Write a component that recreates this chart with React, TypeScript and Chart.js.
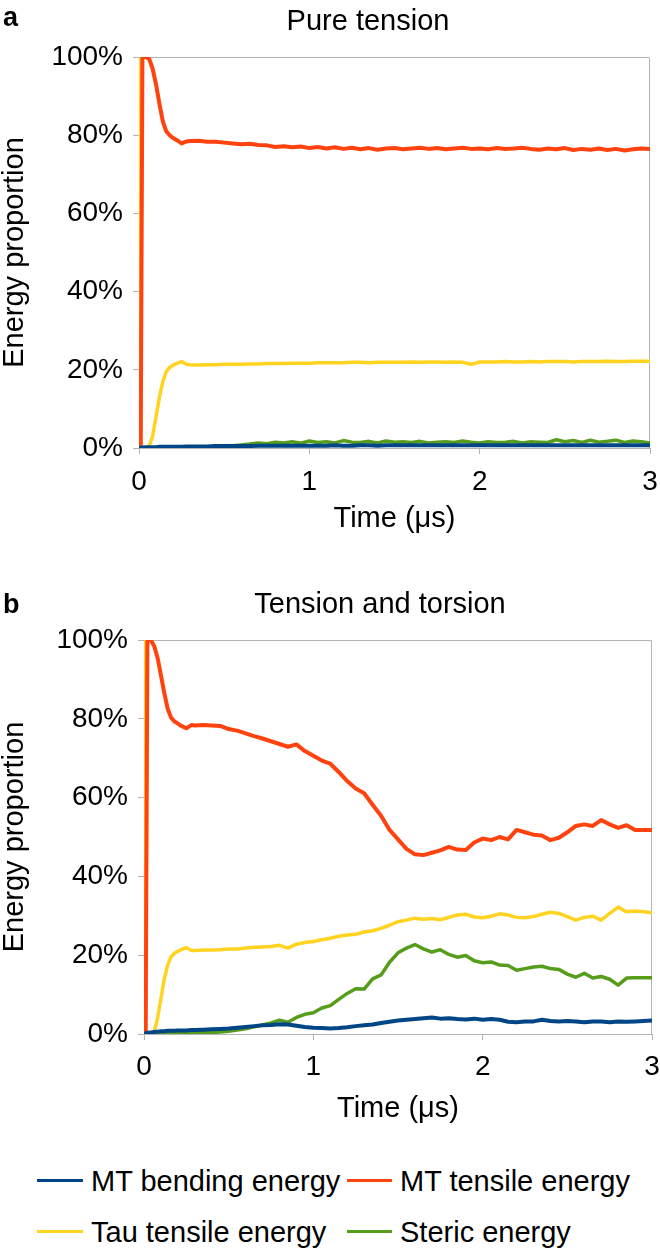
import React, { useEffect, useRef } from "react";
import { Chart, registerables } from "chart.js";

Chart.register(...registerables);

// ---------- data ----------
const TIME = [
  0, 0.01, 0.02, 0.04, 0.06, 0.08, 0.1, 0.12, 0.14, 0.16,
  0.18, 0.2, 0.22, 0.25, 0.28, 0.3, 0.35, 0.4, 0.45, 0.5,
  0.55, 0.6, 0.65, 0.7, 0.75, 0.8, 0.85, 0.9, 0.95, 1.0,
  1.05, 1.1, 1.15, 1.2, 1.25, 1.3, 1.35, 1.4, 1.45, 1.5,
  1.55, 1.6, 1.65, 1.7, 1.75, 1.8, 1.85, 1.9, 1.95, 2.0,
  2.05, 2.1, 2.15, 2.2, 2.25, 2.3, 2.35, 2.4, 2.45, 2.5,
  2.55, 2.6, 2.65, 2.7, 2.75, 2.8, 2.85, 2.9, 2.95, 3.0,
];

const SERIES_NAMES = ["MT bending energy", "MT tensile energy", "Tau tensile energy", "Steric energy"];
const SERIES_COLORS = ["#004586", "#ff420e", "#ffd320", "#579d1c"];
const SERIES_WIDTHS = [4, 4, 3.5, 3.5];

const Y_TICK_STEP = 20;
const X_TICK_STEP = 1;

// Panel a: pure tension
const A_BENDING = [
  0, 0.1, 0.1, 0.2, 0.2, 0.2, 0.2, 0.3, 0.3, 0.3,
  0.3, 0.3, 0.3, 0.3, 0.4, 0.4, 0.4, 0.4, 0.5, 0.5,
  0.5, 0.5, 0.5, 0.6, 0.6, 0.6, 0.6, 0.6, 0.6, 0.6,
  0.6, 0.6, 0.7, 0.6, 0.6, 0.7, 0.7, 0.6, 0.7, 0.7,
  0.7, 0.7, 0.7, 0.7, 0.7, 0.7, 0.7, 0.7, 0.7, 0.7,
  0.7, 0.7, 0.7, 0.7, 0.7, 0.7, 0.7, 0.7, 0.7, 0.7,
  0.7, 0.7, 0.7, 0.7, 0.7, 0.7, 0.7, 0.7, 0.7, 0.7,
];
const A_TENSILE = [
  0, 0, 100, 100, 99.5, 97, 93, 88, 83.5, 81,
  80, 79.3, 78.8, 77.9, 78.4, 78.5, 78.6, 78.3, 78.3, 78.1,
  77.9, 77.7, 77.8, 77.5, 77.4, 77.0, 77.2, 76.9, 77.1, 76.7,
  77.0, 76.6, 76.9, 76.5, 76.8, 76.4, 76.7, 76.3, 76.6, 76.7,
  76.4, 76.6, 76.8, 76.5, 76.7, 76.4, 76.6, 76.8, 76.5, 76.6,
  76.4, 76.7, 76.5, 76.6, 76.8, 76.5, 76.3, 76.6, 76.4, 76.7,
  76.2, 76.5, 76.3, 76.6, 76.2, 76.5, 76.1, 76.4, 76.6, 76.5,
];
const A_TAU = [
  100, 0, 0, 0, 0.5, 3, 8, 13, 17, 19.5,
  20.6, 21.2, 21.6, 22.1, 21.4, 21.3, 21.2, 21.3, 21.3, 21.4,
  21.4, 21.4, 21.5, 21.5, 21.6, 21.6, 21.6, 21.7, 21.7, 21.7,
  21.8, 21.8, 21.8, 21.8, 21.9, 21.9, 21.8, 21.9, 21.9, 21.9,
  21.9, 22.0, 21.9, 22.0, 22.0, 21.9, 22.0, 21.9, 21.4, 22.0,
  22.0, 22.0, 22.1, 22.0, 22.0, 22.1, 22.0, 22.1, 22.1, 22.1,
  22.0, 22.1, 22.1, 22.1, 22.2, 22.1, 22.1, 22.2, 22.2, 22.2,
];
const A_STERIC = [
  0, 0, 0, 0, 0, 0, 0, 0, 0, 0,
  0, 0.1, 0.1, 0.1, 0.2, 0.2, 0.3, 0.3, 0.4, 0.5,
  0.6, 0.8, 1.0, 1.3, 1.1, 1.5, 1.3, 1.6, 1.2, 1.8,
  1.4, 1.6, 1.3, 1.9, 1.5, 1.4, 1.7, 1.3, 1.8, 1.5,
  1.6, 1.4, 1.7, 1.3, 1.5, 1.6, 1.4, 1.8, 1.5, 1.3,
  1.6, 1.4, 1.5, 1.7, 1.3, 1.6, 1.5, 1.4, 2.1, 1.6,
  1.9, 1.4, 2.0, 1.5, 1.7, 2.0, 1.4, 1.8, 1.6, 1.3,
];

// Panel b: tension and torsion
const B_BENDING = [
  0, 0.2, 0.3, 0.4, 0.5, 0.6, 0.7, 0.7, 0.8, 0.8,
  0.8, 0.9, 0.9, 0.9, 1.0, 1.0, 1.1, 1.2, 1.3, 1.4,
  1.6, 1.8, 2.0, 2.2, 2.3, 2.5, 2.4, 2.1, 1.8, 1.6,
  1.5, 1.4, 1.5, 1.7, 2.0, 2.2, 2.4, 2.8, 3.1, 3.4,
  3.6, 3.8, 4.0, 4.2, 3.9, 4.0, 3.8, 3.7, 3.9, 3.6,
  3.8, 3.6, 3.1, 3.0, 3.2, 3.2, 3.6, 3.3, 3.2, 3.3,
  3.2, 3.0, 3.2, 3.2, 3.0, 3.2, 3.1, 3.2, 3.3, 3.4,
];
const B_TENSILE = [
  0, 0, 100, 100, 98.5, 95.5, 91, 86.5, 82.5, 80.3,
  79.3, 78.8, 78.2, 77.6, 78.4, 78.3, 78.4, 78.3, 78.2, 77.4,
  77.0, 76.3, 75.6, 75.0, 74.3, 73.6, 72.9, 73.5, 71.8, 70.6,
  69.4, 68.6, 66.5, 64.2, 62.3, 61.1, 58.2, 55.4, 51.8, 49.4,
  47.0, 45.6, 45.4, 46.0, 46.6, 47.5, 46.8, 46.7, 48.6, 49.6,
  49.2, 50.0, 49.4, 51.8, 51.2, 50.6, 50.4, 49.2, 49.8, 51.2,
  52.8, 53.2, 52.8, 54.3, 53.2, 52.3, 53.0, 51.8, 51.8, 51.8,
];
const B_TAU = [
  100, 0, 0, 0, 0.5, 4, 9, 14, 17.5, 19.6,
  20.5, 21.0, 21.4, 21.9, 21.2, 21.2, 21.3, 21.3, 21.4, 21.6,
  21.6, 21.8, 22.0, 22.1, 22.2, 22.5, 21.8, 22.8, 23.2, 23.5,
  23.9, 24.3, 24.8, 25.1, 25.3, 25.9, 26.2, 26.8, 27.6, 28.5,
  28.9, 29.4, 29.1, 29.3, 29.0, 29.6, 30.2, 30.4, 29.7, 29.5,
  29.9, 30.5, 30.2, 29.6, 29.5, 29.8, 30.4, 30.9, 30.6, 29.8,
  28.9, 29.6, 29.9, 28.9, 30.6, 32.2, 31.0, 31.2, 31.0, 30.8,
];
const B_STERIC = [
  0, 0, 0, 0, 0, 0, 0, 0, 0, 0.1,
  0.1, 0.1, 0.1, 0.2, 0.2, 0.3, 0.3, 0.4, 0.5, 0.7,
  1.0, 1.3, 1.8, 2.3, 2.8, 3.5, 3.0, 4.2, 5.0, 5.4,
  6.6, 7.2, 8.8, 10.3, 11.5, 11.4, 14.0, 15.0, 18.2, 20.6,
  21.8, 22.7, 21.6, 20.8, 21.4, 20.2, 19.5, 19.9, 18.6, 18.1,
  18.3, 17.5, 17.4, 16.2, 16.6, 17.0, 17.2, 16.6, 16.4, 15.2,
  14.4, 15.4, 14.2, 14.6, 13.9, 12.4, 14.2, 14.3, 14.3, 14.3,
];

// ---------- layout ----------
const FONT = "'Liberation Sans', Arial, Helvetica, sans-serif";
const W = 660;

type Panel = {
  letter: string;
  title: string;
  series: number[][];
  canvasTop: number;
  height: number;
  plotTop: number;
  plotBottom: number;
  plotLeft: number;
  plotRight: number;
  titleX: number;
  titleBase: number;
  letterBase: number;
  xTickPad: number;
};

const PANELS: Panel[] = [
  {
    letter: "a",
    title: "Pure tension",
    series: [A_BENDING, A_TENSILE, A_TAU, A_STERIC],
    canvasTop: 0,
    height: 540,
    plotTop: 57,
    plotBottom: 448,
    plotLeft: 139,
    plotRight: 650,
    titleX: 368,
    titleBase: 30,
    letterBase: 26,
    xTickPad: 11,
  },
  {
    letter: "b",
    title: "Tension and torsion",
    series: [B_BENDING, B_TENSILE, B_TAU, B_STERIC],
    canvasTop: 583,
    height: 547,
    plotTop: 57,
    plotBottom: 451,
    plotLeft: 144,
    plotRight: 652,
    titleX: 380,
    titleBase: 30,
    letterBase: 30,
    xTickPad: 10,
  },
];

const AXIS_GREY = "#b3b3b3";

function PanelChart({ panel }: { panel: Panel }) {
  const ref = useRef<HTMLCanvasElement | null>(null);
  useEffect(() => {
    if (!ref.current) return;
    const p = panel;
    const framePlugin = {
      id: "frame" + p.letter,
      beforeDatasetsDraw(chart: any) {
        const { ctx, chartArea } = chart;
        ctx.save();
        ctx.strokeStyle = AXIS_GREY;
        ctx.lineWidth = 1;
        ctx.beginPath();
        const t = Math.round(chartArea.top) + 0.5;
        const r = Math.round(chartArea.right) - 0.5;
        ctx.moveTo(chartArea.left, t);
        ctx.lineTo(r, t);
        ctx.lineTo(r, chartArea.bottom);
        ctx.stroke();
        ctx.restore();
      },
      afterDraw(chart: any) {
        const { ctx } = chart;
        ctx.save();
        ctx.fillStyle = "#000";
        ctx.textBaseline = "alphabetic";
        ctx.textAlign = "left";
        ctx.font = `bold 27px ${FONT}`;
        ctx.fillText(p.letter, 3, p.letterBase);
        ctx.textAlign = "center";
        ctx.font = `29px ${FONT}`;
        ctx.fillText(p.title, p.titleX, p.titleBase);
        ctx.restore();
      },
    };

    const datasets = SERIES_NAMES.map((name, k) => ({
      label: name,
      data: TIME.map((t, i) => ({ x: t, y: p.series[k][i] })),
      borderColor: SERIES_COLORS[k],
      backgroundColor: SERIES_COLORS[k],
      borderWidth: SERIES_WIDTHS[k],
      pointRadius: 0,
      tension: 0,
      fill: false,
      borderJoinStyle: "round" as const,
      borderCapStyle: "round" as const,
    }));

    const chart = new Chart(ref.current, {
      type: "line",
      data: { datasets },
      options: {
        responsive: false,
        animation: false,
        devicePixelRatio: 1,
        layout: { padding: { top: p.plotTop, right: W - p.plotRight, left: 0, bottom: 0 } },
        plugins: {
          legend: { display: false },
          tooltip: { enabled: false },
          title: { display: false },
        },
        scales: {
          x: {
            type: "linear",
            min: 0,
            max: 3,
            ticks: {
              stepSize: X_TICK_STEP,
              color: "#000",
              font: { family: FONT, size: 28 },
              padding: p.xTickPad,
              maxRotation: 0,
            },
            grid: { display: true, drawOnChartArea: false, drawTicks: true, tickLength: 6, color: AXIS_GREY },
            border: { display: true, color: AXIS_GREY, width: 1 },
            title: {
              display: true,
              text: "Time (μs)",
              color: "#000",
              font: { family: FONT, size: 29, lineHeight: 1 },
              padding: { top: 0, bottom: 7 },
            },
            afterFit: (s: any) => {
              s.height = p.height - p.plotBottom;
              s.paddingLeft = 0;
              s.paddingRight = 0;
            },
          },
          y: {
            type: "linear",
            min: 0,
            max: 100,
            ticks: {
              stepSize: Y_TICK_STEP,
              color: "#000",
              font: { family: FONT, size: 28 },
              padding: 10,
              callback: (v: any) => `${v}%`,
            },
            grid: { display: true, drawOnChartArea: false, drawTicks: true, tickLength: 6, color: AXIS_GREY },
            border: { display: true, color: AXIS_GREY, width: 1 },
            title: {
              display: true,
              text: "Energy proportion",
              color: "#000",
              font: { family: FONT, size: 29, lineHeight: 1 },
              padding: { top: 0, bottom: 0 },
            },
            afterFit: (s: any) => {
              s.width = p.plotLeft;
              s.paddingTop = 0;
              s.paddingBottom = 0;
            },
          },
        },
      },
      plugins: [framePlugin],
    });
    return () => chart.destroy();
  }, [panel]);

  return (
    <canvas
      ref={ref}
      width={W}
      height={panel.height}
      style={{ position: "absolute", left: 0, top: panel.canvasTop, width: W, height: panel.height }}
    />
  );
}

const LEGEND_ROWS = [
  { base: 1191, lineY: 1180, items: [0, 1] },
  { base: 1242, lineY: 1231, items: [2, 3] },
];
const LEGEND_COLS = [
  { lineX: 37, lineW: 46, textX: 91 },
  { lineX: 347, lineW: 45, textX: 400 },
];

function Legend() {
  return (
    <>
      {LEGEND_ROWS.map((row, r) =>
        row.items.map((k, c) => (
          <React.Fragment key={`${r}-${c}`}>
            <div
              style={{
                position: "absolute",
                left: LEGEND_COLS[c].lineX,
                top: row.lineY - 1.5,
                width: LEGEND_COLS[c].lineW,
                height: 3,
                background: SERIES_COLORS[k],
              }}
            />
            <div
              style={{
                position: "absolute",
                left: LEGEND_COLS[c].textX,
                top: row.base - 27,
                fontFamily: FONT,
                fontSize: 29,
                lineHeight: "34px",
                color: "#000",
                whiteSpace: "nowrap",
              }}
            >
              {SERIES_NAMES[k]}
            </div>
          </React.Fragment>
        ))
      )}
    </>
  );
}

export default function App() {
  return (
    <div
      style={{
        position: "absolute",
        left: 0,
        top: 0,
        width: W,
        height: 1250,
        background: "#fff",
        overflow: "hidden",
      }}
    >
      {PANELS.map((p) => (
        <PanelChart key={p.letter} panel={p} />
      ))}
      <Legend />
    </div>
  );
}
